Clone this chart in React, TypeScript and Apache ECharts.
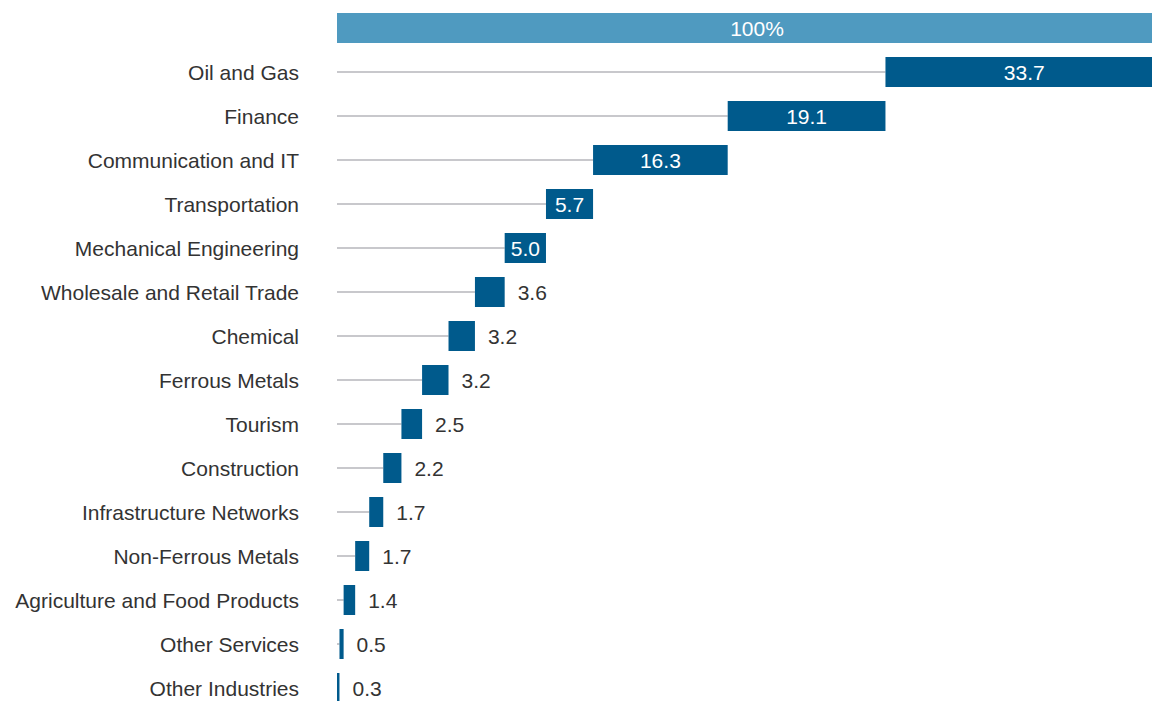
import React, { useEffect, useRef } from "react";
import * as echarts from "echarts";

const totalLabel = "100%";
const totalValue = 100;
const sectors = [
  "Oil and Gas",
  "Finance",
  "Communication and IT",
  "Transportation",
  "Mechanical Engineering",
  "Wholesale and Retail Trade",
  "Chemical",
  "Ferrous Metals",
  "Tourism",
  "Construction",
  "Infrastructure Networks",
  "Non-Ferrous Metals",
  "Agriculture and Food Products",
  "Other Services",
  "Other Industries",
];
const shares = [33.7, 19.1, 16.3, 5.7, 5.0, 3.6, 3.2, 3.2, 2.5, 2.2, 1.7, 1.7, 1.4, 0.5, 0.3];

const FONT = "Liberation Sans";
const FONT_SIZE = 21;
const DARK = "#005a8c";
const LIGHT = "#4f9ac0";

export default function App() {
  const ref = useRef<HTMLDivElement>(null);

  useEffect(() => {
    document.body.style.margin = "0";
    document.body.style.overflow = "hidden";
    if (!ref.current) return;
    const chart = echarts.init(ref.current, undefined, { renderer: "svg" });

    const categories = ["", ...sectors];
    // base of each sector bar = sum of the shares listed below it
    const bases: number[] = shares.map((_, i) =>
      Math.round(shares.slice(i + 1).reduce((a, b) => a + b, 0) * 10) / 10
    );
    const placeholder = [0, ...bases];
    const valueData = [
      {
        value: totalValue,
        itemStyle: { color: LIGHT },
        label: {
          show: true,
          position: "inside",
          color: "#fff",
          offset: [7, 0],
          formatter: totalLabel,
        },
      },
      ...shares.map((v) => {
        const inside = v >= 5;
        return {
          value: v,
          itemStyle: { color: DARK },
          label: inside
            ? { show: true, position: "inside", color: "#fff", formatter: v.toFixed(1) }
            : { show: true, position: "right", distance: 13, color: "#333", formatter: v.toFixed(1) },
        };
      }),
    ];
    const connectorData = bases
      .map((b, i) => [i + 1, b])
      .filter((d) => d[1] > 0);

    chart.setOption({
      animation: false,
      textStyle: { fontFamily: FONT },
      grid: { left: 337, top: 6, width: 826, height: 704, containLabel: false },
      xAxis: {
        type: "value",
        min: 0,
        max: 100,
        show: false,
      },
      yAxis: {
        type: "category",
        data: categories,
        inverse: true,
        axisLine: { show: false },
        axisTick: { show: false },
        splitLine: { show: false },
        axisLabel: { color: "#333", fontSize: FONT_SIZE, fontFamily: FONT, margin: 38 },
      },
      series: [
        {
          type: "custom",
          z: 1,
          silent: true,
          encode: { x: 1, y: 0 },
          data: connectorData,
          renderItem: (_params: any, api: any) => {
            const idx = api.value(0);
            const p0 = api.coord([0, idx]);
            const p1 = api.coord([api.value(1), idx]);
            return {
              type: "line",
              shape: { x1: p0[0], y1: p0[1], x2: p1[0], y2: p1[1] },
              style: { stroke: "#c8c8cc", lineWidth: 2 },
            };
          },
        },
        {
          type: "bar",
          stack: "w",
          silent: true,
          barWidth: 30,
          z: 2,
          itemStyle: { color: "transparent" },
          data: placeholder,
        },
        {
          type: "bar",
          stack: "w",
          barWidth: 30,
          z: 3,
          label: { fontSize: FONT_SIZE, fontFamily: FONT },
          data: valueData,
        },
      ],
    });

    return () => chart.dispose();
  }, []);

  return <div ref={ref} style={{ width: 1175, height: 712 }} />;
}
